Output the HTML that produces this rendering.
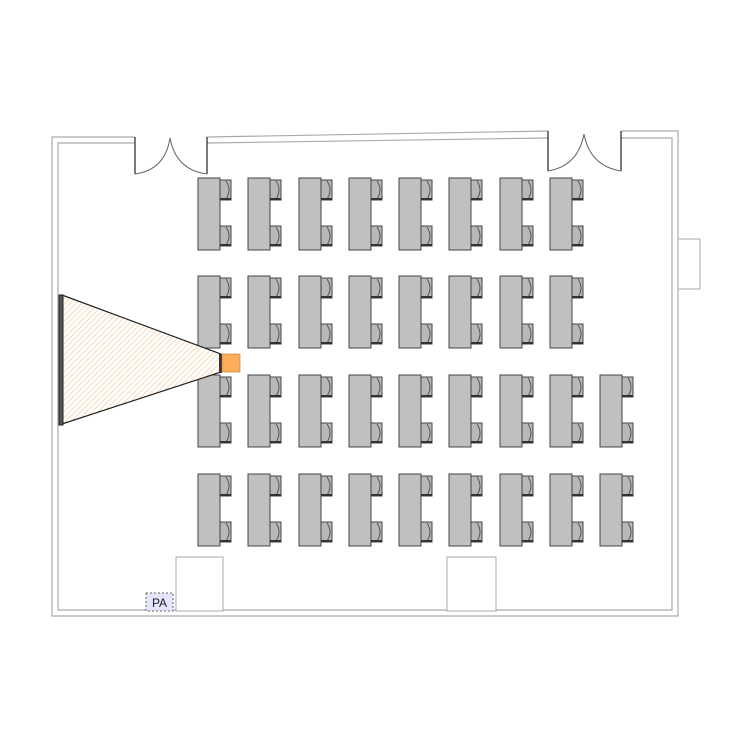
<!DOCTYPE html>
<html><head><style>body{margin:0;background:#fff}</style></head><body>
<svg width="750" height="750" viewBox="0 0 750 750" xmlns="http://www.w3.org/2000/svg">
<defs>
<pattern id="h" width="4" height="4" patternUnits="userSpaceOnUse" patternTransform="rotate(45)">
<rect width="4" height="4" fill="#fff"/><line x1="0" y1="0" x2="0" y2="4" stroke="#f5c38e" stroke-width="1.2"/>
</pattern>
<g id="d">
<rect x="0" y="0" width="22" height="72" fill="#c0c0c0" stroke="#444" stroke-width="1"/>
<g id="c"><rect x="22" y="2" width="11" height="20" fill="#b8b8b8" stroke="#444" stroke-width="1"/><path d="M28 3 Q34 12 28 21" fill="none" stroke="#555"/><line x1="22" y1="21" x2="33" y2="21" stroke="#333" stroke-width="2"/></g>
<use href="#c" y="46"/>
</g>
</defs>
<path d="M135 137 H52 V616 H678 V131 H621 M207 137 L548 131" fill="none" stroke="#aaa" stroke-width="1.2"/>
<path d="M135 143 H58 V610 H672 V138 H621 M207 143 L548 138" fill="none" stroke="#aaa" stroke-width="1.2"/>
<rect x="678" y="239" width="22" height="50" fill="#fff" stroke="#aaa"/>
<path d="M135 137 V174 M207 137 V174 M548 131 V171 M621 131 V171" stroke="#222" stroke-width="1.2"/>
<path d="M135 174 Q165 170 170 138 Q176 170 207 174 M548 171 Q578 166 584 134 Q590 166 621 171" fill="none" stroke="#666"/>
<rect x="176" y="557" width="47" height="54" fill="#fff" stroke="#aaa"/>
<rect x="447" y="557" width="49" height="54" fill="#fff" stroke="#aaa"/>
<rect x="146" y="593" width="27" height="18" fill="#e4e4fa" stroke="#666" stroke-dasharray="2,2"/>
<text x="159.5" y="607" font-family="Liberation Sans, sans-serif" font-size="12" text-anchor="middle" fill="#222">PA</text>
<g>
<use href="#d" x="198" y="178"/><use href="#d" x="248" y="178"/><use href="#d" x="299" y="178"/><use href="#d" x="349" y="178"/><use href="#d" x="399" y="178"/><use href="#d" x="449" y="178"/><use href="#d" x="500" y="178"/><use href="#d" x="550" y="178"/>
<use href="#d" x="198" y="276"/><use href="#d" x="248" y="276"/><use href="#d" x="299" y="276"/><use href="#d" x="349" y="276"/><use href="#d" x="399" y="276"/><use href="#d" x="449" y="276"/><use href="#d" x="500" y="276"/><use href="#d" x="550" y="276"/>
<use href="#d" x="198" y="375"/><use href="#d" x="248" y="375"/><use href="#d" x="299" y="375"/><use href="#d" x="349" y="375"/><use href="#d" x="399" y="375"/><use href="#d" x="449" y="375"/><use href="#d" x="500" y="375"/><use href="#d" x="550" y="375"/><use href="#d" x="600" y="375"/>
<use href="#d" x="198" y="474"/><use href="#d" x="248" y="474"/><use href="#d" x="299" y="474"/><use href="#d" x="349" y="474"/><use href="#d" x="399" y="474"/><use href="#d" x="449" y="474"/><use href="#d" x="500" y="474"/><use href="#d" x="550" y="474"/><use href="#d" x="600" y="474"/>
</g>
<polygon points="62,295 221,354 221,372 62,424" fill="url(#h)" stroke="#222" stroke-width="1.2"/>
<rect x="59" y="295" width="4" height="130" fill="#555" stroke="#222"/>
<rect x="219" y="354" width="3" height="19" fill="#333"/>
<rect x="222" y="354" width="18" height="18" fill="#fbad5a" stroke="#c07a30" stroke-width="0.6"/>
</svg>
</body></html>
